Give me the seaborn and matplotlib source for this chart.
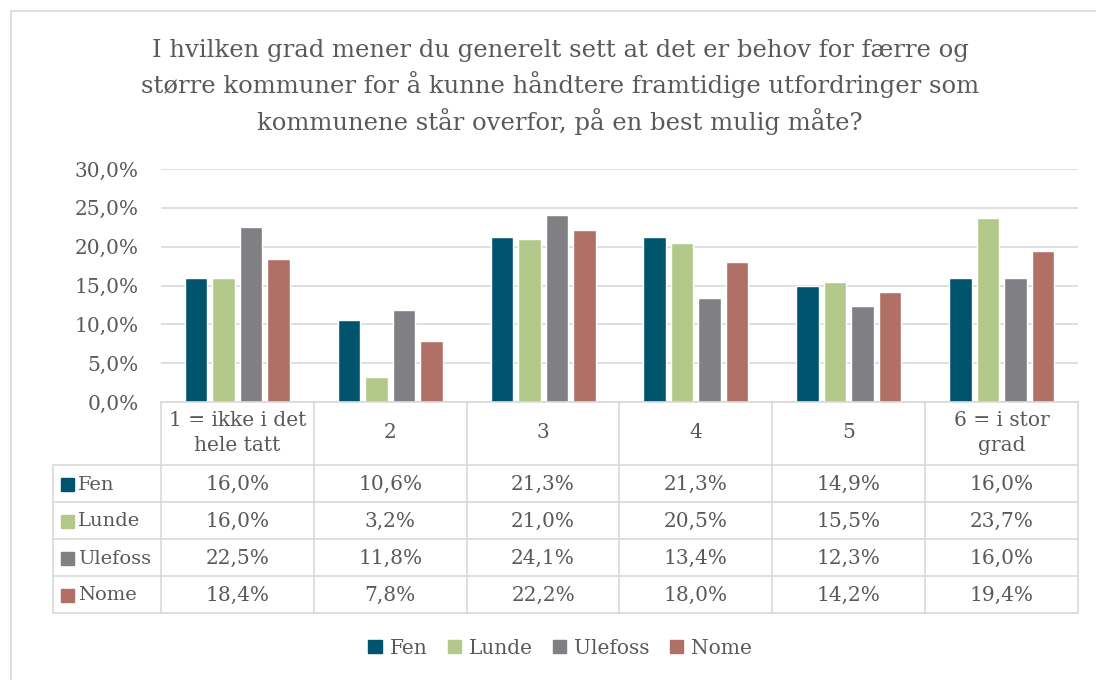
import pandas as pd
import numpy as np
import matplotlib.pyplot as plt
import seaborn as sns
from matplotlib.patches import Rectangle
from matplotlib.lines import Line2D
from matplotlib.ticker import FuncFormatter

categories = ["1 = ikke i det\nhele tatt", "2", "3", "4", "5", "6 = i stor\ngrad"]
series = ["Fen", "Lunde", "Ulefoss", "Nome"]
fen = [16.0, 10.6, 21.3, 21.3, 14.9, 16.0]
lunde = [16.0, 3.2, 21.0, 20.5, 15.5, 23.7]
ulefoss = [22.5, 11.8, 24.1, 13.4, 12.3, 16.0]
nome = [18.4, 7.8, 22.2, 18.0, 14.2, 19.4]
colors = ["#00546E", "#B3C98A", "#7F7F84", "#B07066"]
title = ("I hvilken grad mener du generelt sett at det er behov for færre og\n"
         "større kommuner for å kunne håndtere framtidige utfordringer som\n"
         "kommunene står overfor, på en best mulig måte?")

values = [fen, lunde, ulefoss, nome]
df = pd.DataFrame({
    "kategori": np.tile(categories, len(series)),
    "serie": np.repeat(series, len(categories)),
    "andel": np.concatenate(values),
})

sns.set_theme(style="white")
plt.rcParams["font.family"] = ["DejaVu Serif"]
txt = "#595959"
grid = "#D9D9D9"
fs = 14.5

W, H = 1096, 680
fig = plt.figure(figsize=(W / 100, H / 100), dpi=100)

# outer chart border (top and left edges are visible)
fig.add_artist(Line2D([11 / W, 1.0], [1 - 11 / H, 1 - 11 / H], color=grid, lw=1.2))
fig.add_artist(Line2D([11 / W, 11 / W], [0, 1 - 11 / H], color=grid, lw=1.2))

ax = fig.add_axes([161 / W, 1 - 402 / H, (1078 - 161) / W, (402 - 169) / H])
sns.barplot(data=df, x="kategori", y="andel", hue="serie", palette=colors,
            order=categories, hue_order=series, width=0.72, gap=0.18,
            saturation=1, legend=False, ax=ax)
ax.set_xlim(-0.5, len(categories) - 0.5)
ax.set_ylim(0, 30)
ax.set_yticks(np.arange(0, 31, 5))
ax.yaxis.set_major_formatter(FuncFormatter(lambda v, p: f"{v:.1f}%".replace(".", ",")))
ax.tick_params(axis="y", labelsize=fs, colors=txt, length=0, pad=16)
ax.set_xticks([])
ax.set_xlabel("")
ax.set_ylabel("")
ax.grid(axis="y", color=grid, lw=1.2)
ax.set_axisbelow(True)
for s in ax.spines.values():
    s.set_visible(False)

fig.text(0.511, 1 - 87 / H, title, ha="center", va="center", fontsize=17.5,
         color=txt, linespacing=1.45)

# data table below the plot
tab = fig.add_axes([161 / W, 1 - 613 / H, (1078 - 161) / W, (613 - 402) / H])
tab.set_xlim(-0.5, len(categories) - 0.5)
tab.set_ylim(211, 0)
tab.axis("off")
catw = (1078 - 161) / len(categories)
left = -0.5 - (161 - 53) / catw
rows = [0, 63, 100, 137, 174, 211]
lk = dict(color=grid, lw=1.2, clip_on=False)
tab.plot([-0.5, 5.5], [0, 0], **lk)
for y in rows[1:]:
    tab.plot([left, 5.5], [y, y], **lk)
for i in range(len(categories) + 1):
    tab.plot([i - 0.5, i - 0.5], [0, 211], **lk)
tab.plot([left, left], [63, 211], **lk)
for i, c in enumerate(categories):
    tab.text(i, 31, c, ha="center", va="center", fontsize=fs, color=txt, linespacing=1.4)
for r, (name, vals, col) in enumerate(zip(series, values, colors)):
    yc = (rows[r + 1] + rows[r + 2]) / 2
    tab.add_patch(Rectangle((left + 8 / catw, yc - 6), 13 / catw, 13, color=col, clip_on=False))
    tab.text(left + 25 / catw, yc + 1, name, ha="left", va="center", fontsize=14, color=txt)
    for i, v in enumerate(vals):
        tab.text(i, yc + 1, f"{v:.1f}%".replace(".", ","), ha="center", va="center",
                 fontsize=fs, color=txt)

handles = [Rectangle((0, 0), 1, 1, color=c) for c in colors]
fig.legend(handles, series, loc="center", bbox_to_anchor=(0.511, 1 - 648 / H), ncol=4,
           frameon=False, fontsize=fs, handlelength=0.65, handleheight=0.65,
           handletextpad=0.4, columnspacing=1.0, labelcolor=txt)

fig.savefig("out.png", dpi=100)
